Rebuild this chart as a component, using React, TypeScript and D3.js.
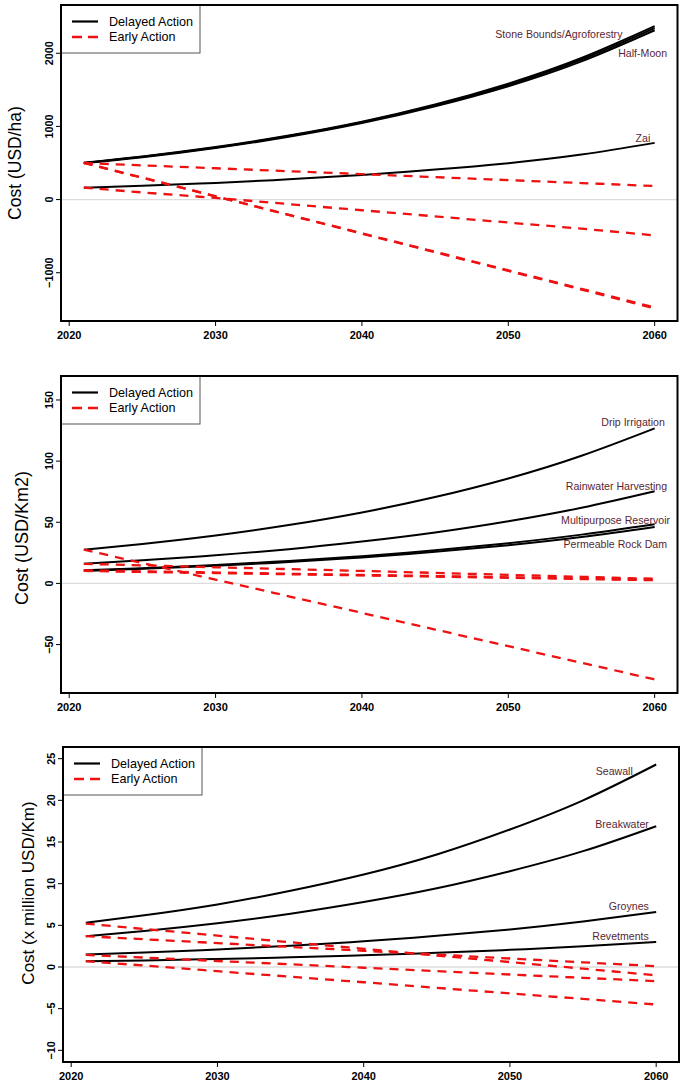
import React from 'react';
import * as d3 from 'd3';

// ---------- shared data ----------
const YEARS = [2021, 2025, 2030, 2035, 2040, 2045, 2050, 2055, 2060];
const X_LIM = [2021, 2060];
const X_TICKS = [2020, 2030, 2040, 2050, 2060];
const LEGEND_LABELS = ['Delayed Action', 'Early Action'];

// ---------- panel 1 : USD/ha ----------
const P1_YLIM = [-1500, 2500];
const P1_Y_TICKS = [-1000, 0, 1000, 2000];
const P1_STONE_BOUNDS_DELAYED = [505, 590, 718, 875, 1065, 1300, 1585, 1935, 2370];
const P1_AGROFORESTRY_DELAYED = [500, 585, 712, 868, 1057, 1290, 1570, 1915, 2345];
const P1_HALF_MOON_DELAYED = [495, 578, 705, 858, 1045, 1275, 1550, 1890, 2315];
const P1_ZAI_DELAYED = [160, 188, 228, 277, 337, 410, 498, 615, 775];
const P1_STONE_BOUNDS_EARLY = [500, 468, 428, 388, 348, 307, 266, 226, 185];
const P1_ZAI_EARLY = [165, 98, 22, -62, -146, -230, -314, -398, -490];
const P1_AGROFORESTRY_EARLY = [500, 297, 45, -208, -461, -714, -967, -1220, -1475];
const P1_HALF_MOON_EARLY = [505, 300, 45, -210, -465, -720, -975, -1230, -1490];
const P1_LABELS = ['Stone Bounds/Agroforestry', 'Half-Moon', 'Zai'];
const P1_LABEL_YEARS = [2057.8, 2060.85, 2059.7];
const P1_LABEL_VALUES = [2210, 1949, 785];

// ---------- panel 2 : USD/Km2 ----------
const P2_YLIM = [-80, 160];
const P2_Y_TICKS = [-50, 0, 50, 100, 150];
const P2_DRIP_DELAYED = [27.6, 32.3, 39.2, 47.7, 58.0, 70.6, 85.8, 104.4, 126.8];
const P2_RAINWATER_DELAYED = [16.1, 18.9, 23.0, 28.0, 34.2, 41.6, 50.8, 61.9, 75.4];
const P2_RESERVOIR_DELAYED = [10.7, 12.5, 15.1, 18.4, 22.3, 27.1, 32.9, 39.9, 48.4];
const P2_ROCKDAM_DELAYED = [10.2, 11.9, 14.4, 17.5, 21.2, 25.8, 31.3, 38.0, 46.2];
const P2_DRIP_EARLY = [27.6, 16.7, 3.1, -10.5, -24.1, -37.7, -51.3, -64.9, -78.5];
const P2_RAINWATER_EARLY = [16.0, 14.8, 13.2, 11.7, 10.2, 8.6, 7.0, 5.4, 3.8];
const P2_RESERVOIR_EARLY = [10.7, 9.9, 8.9, 7.9, 6.9, 6.0, 5.0, 4.0, 3.0];
const P2_ROCKDAM_EARLY = [10.2, 9.4, 8.5, 7.5, 6.6, 5.6, 4.6, 3.6, 2.6];
const P2_LABELS = ['Drip Irrigation', 'Rainwater Harvesting', 'Multipurpose Reservoir', 'Permeable Rock Dam'];
const P2_LABEL_YEARS = [2060.7, 2060.85, 2061.05, 2060.85];
const P2_LABEL_VALUES = [128.7, 76.2, 48.8, 28.7];

// ---------- panel 3 : million USD/Km ----------
const P3_YLIM = [-10, 25];
const P3_Y_TICKS = [-10, -5, 0, 5, 10, 15, 20, 25];
const P3_SEAWALL_DELAYED = [5.3, 6.2, 7.5, 9.15, 11.1, 13.5, 16.5, 20.0, 24.3];
const P3_BREAKWATER_DELAYED = [3.7, 4.33, 5.26, 6.4, 7.8, 9.45, 11.5, 13.9, 16.9];
const P3_GROYNES_DELAYED = [1.5, 1.74, 2.11, 2.55, 3.09, 3.74, 4.5, 5.45, 6.6];
const P3_REVETMENTS_DELAYED = [0.68, 0.79, 0.96, 1.16, 1.4, 1.7, 2.06, 2.48, 3.0];
const P3_SEAWALL_EARLY = [5.2, 4.56, 3.77, 2.97, 2.18, 1.38, 0.59, -0.2, -1.0];
const P3_BREAKWATER_EARLY = [3.7, 3.33, 2.87, 2.41, 1.95, 1.49, 1.02, 0.56, 0.1];
const P3_GROYNES_EARLY = [1.45, 1.13, 0.72, 0.32, -0.09, -0.49, -0.9, -1.3, -1.7];
const P3_REVETMENTS_EARLY = [0.7, 0.17, -0.5, -1.17, -1.83, -2.5, -3.17, -3.83, -4.5];
const P3_LABELS = ['Seawall', 'Breakwater', 'Groynes', 'Revetments'];
const P3_LABEL_YEARS = [2058.4, 2059.5, 2059.5, 2059.5];
const P3_LABEL_VALUES = [23.0, 16.65, 6.8, 3.2];

// ---------- layout / style ----------
const FONT = "'Liberation Sans', Arial, Helvetica, sans-serif";
const LABEL_COLOR = '#5a1f33';
const RED = '#ee1111';

type PanelCfg = {
  left: number; right: number; top: number; bottom: number;
  ylim: number[]; yTicks: number[];
  delayed: number[][]; early: number[][];
  labels: string[]; labelYears: number[]; labelValues: number[];
  ylab: string; ylabX: number; ylabY: number; ylabSize: number;
};

const PANELS: PanelCfg[] = [
  {
    left: 61, right: 677.5, top: 5, bottom: 321,
    ylim: P1_YLIM, yTicks: P1_Y_TICKS,
    delayed: [P1_STONE_BOUNDS_DELAYED, P1_AGROFORESTRY_DELAYED, P1_HALF_MOON_DELAYED, P1_ZAI_DELAYED],
    early: [P1_STONE_BOUNDS_EARLY, P1_ZAI_EARLY, P1_AGROFORESTRY_EARLY, P1_HALF_MOON_EARLY],
    labels: P1_LABELS, labelYears: P1_LABEL_YEARS, labelValues: P1_LABEL_VALUES,
    ylab: 'Cost (USD/ha)', ylabX: 21, ylabY: 163, ylabSize: 17.5,
  },
  {
    left: 61, right: 677.5, top: 376, bottom: 693,
    ylim: P2_YLIM, yTicks: P2_Y_TICKS,
    delayed: [P2_DRIP_DELAYED, P2_RAINWATER_DELAYED, P2_RESERVOIR_DELAYED, P2_ROCKDAM_DELAYED],
    early: [P2_DRIP_EARLY, P2_RAINWATER_EARLY, P2_RESERVOIR_EARLY, P2_ROCKDAM_EARLY],
    labels: P2_LABELS, labelYears: P2_LABEL_YEARS, labelValues: P2_LABEL_VALUES,
    ylab: 'Cost (USD/Km2)', ylabX: 28, ylabY: 538, ylabSize: 18,
  },
  {
    left: 63, right: 679, top: 747, bottom: 1062,
    ylim: P3_YLIM, yTicks: P3_Y_TICKS,
    delayed: [P3_SEAWALL_DELAYED, P3_BREAKWATER_DELAYED, P3_GROYNES_DELAYED, P3_REVETMENTS_DELAYED],
    early: [P3_SEAWALL_EARLY, P3_BREAKWATER_EARLY, P3_GROYNES_EARLY, P3_REVETMENTS_EARLY],
    labels: P3_LABELS, labelYears: P3_LABEL_YEARS, labelValues: P3_LABEL_VALUES,
    ylab: 'Cost (x million USD/Km)', ylabX: 34, ylabY: 893, ylabSize: 17,
  },
];

const extend = (lim: number[]) => {
  const pad = (lim[1] - lim[0]) * 0.04;
  return [lim[0] - pad, lim[1] + pad];
};
const fmt = (v: number) => (v < 0 ? '\u2212' + Math.abs(v) : String(v));

function Panel({ cfg, idx }: { cfg: PanelCfg; idx: number }) {
  const x = d3.scaleLinear().domain(extend(X_LIM)).range([cfg.left, cfg.right]);
  const y = d3.scaleLinear().domain(extend(cfg.ylim)).range([cfg.bottom, cfg.top]);
  const line = d3
    .line<number>()
    .x((_, i) => x(YEARS[i]))
    .y((d) => y(d))
    .curve(d3.curveNatural);
  const clipId = `clip${idx}`;
  const lgX = cfg.left;
  const lgY = cfg.top;
  return (
    <g>
      <defs>
        <clipPath id={clipId}>
          <rect x={cfg.left} y={cfg.top} width={cfg.right - cfg.left} height={cfg.bottom - cfg.top} />
        </clipPath>
      </defs>
      <g clipPath={`url(#${clipId})`}>
        <line x1={cfg.left} x2={cfg.right} y1={y(0)} y2={y(0)} stroke="#dcdcdc" strokeWidth={1.3} />
        {cfg.delayed.map((s, i) => (
          <path key={'d' + i} d={line(s) || ''} fill="none" stroke="#000" strokeWidth={2} />
        ))}
        {cfg.early.map((s, i) => (
          <path key={'e' + i} d={line(s) || ''} fill="none" stroke={RED} strokeWidth={2.3}
            strokeDasharray="9,7" />
        ))}
      </g>
      {cfg.labels.map((t, i) => (
        <text key={'l' + i} x={x(cfg.labelYears[i])} y={y(cfg.labelValues[i])} textAnchor="end"
          fontFamily={FONT} fontSize={10.6} fill={LABEL_COLOR}>{t}</text>
      ))}
      {/* axes */}
      {X_TICKS.map((t) => (
        <g key={'xt' + t}>
          <line x1={x(t)} x2={x(t)} y1={cfg.bottom} y2={cfg.bottom + 5} stroke="#000" strokeWidth={1} />
          <text x={x(t)} y={cfg.bottom + 18} textAnchor="middle" fontFamily={FONT} fontWeight="bold"
            fontSize={11}>{t}</text>
        </g>
      ))}
      {cfg.yTicks.map((t) => (
        <g key={'yt' + t}>
          <line x1={cfg.left - 5} x2={cfg.left} y1={y(t)} y2={y(t)} stroke="#000" strokeWidth={1} />
          <text transform={`translate(${cfg.left - 8},${y(t)}) rotate(-90)`} textAnchor="middle"
            fontFamily={FONT} fontWeight="bold" fontSize={10.8}>{fmt(t)}</text>
        </g>
      ))}
      <text transform={`translate(${cfg.ylabX},${cfg.ylabY}) rotate(-90)`} textAnchor="middle"
        fontFamily={FONT} fontSize={cfg.ylabSize}>{cfg.ylab}</text>
      {/* legend */}
      <rect x={lgX} y={lgY} width={139} height={48} fill="#fff" stroke="#555" strokeWidth={1} />
      <line x1={lgX + 11} x2={lgX + 37} y1={lgY + 16.5} y2={lgY + 16.5} stroke="#000" strokeWidth={2.2} />
      <line x1={lgX + 11} x2={lgX + 37} y1={lgY + 32} y2={lgY + 32} stroke={RED} strokeWidth={2.3}
        strokeDasharray="10,6" />
      {LEGEND_LABELS.map((t, i) => (
        <text key={'lg' + i} x={lgX + 48} y={lgY + 16.5 + i * 15.5} dominantBaseline="central"
          fontFamily={FONT} fontSize={12.6}>{t}</text>
      ))}
      <rect x={cfg.left} y={cfg.top} width={cfg.right - cfg.left} height={cfg.bottom - cfg.top}
        fill="none" stroke="#000" strokeWidth={2} />
    </g>
  );
}

export default function App() {
  return (
    <svg width={685} height={1087} style={{ position: 'absolute', left: 0, top: 0, background: '#fff' }}>
      <rect x={0} y={0} width={685} height={1087} fill="#fff" />
      {PANELS.map((p, i) => (
        <Panel key={i} cfg={p} idx={i} />
      ))}
    </svg>
  );
}
